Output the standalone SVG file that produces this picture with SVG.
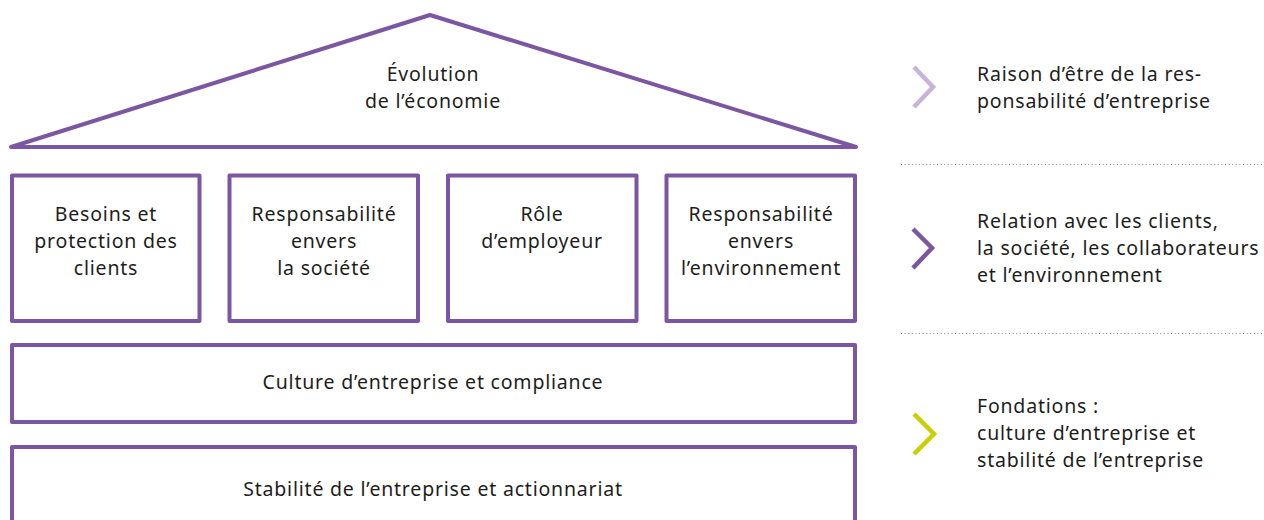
<svg xmlns="http://www.w3.org/2000/svg" width="1264" height="520" viewBox="0 0 1264 520">
<style>
.frame{fill:none;stroke:#7B56A2;stroke-width:4;stroke-linejoin:round}
.t{font-family:"Noto Sans","Open Sans",sans-serif;font-size:19.5px;letter-spacing:0.8px;fill:#1d1d1b;text-anchor:middle}
.r{font-family:"Noto Sans","Open Sans",sans-serif;font-size:19.5px;letter-spacing:0.8px;fill:#1d1d1b}
.chev{fill:none;stroke-width:4.5}
.dot{stroke:#8a8a8a;stroke-width:1.2;stroke-dasharray:1 2.6}
</style>
<rect width="1264" height="520" fill="#ffffff"/>
<g id="roof">
<polygon class="frame" points="430,15 856,147 11,147"/>
<text class="t" x="433" y="81">Évolution</text>
<text class="t" x="433" y="108">de l’économie</text>
</g>
<g id="box-clients">
<rect class="frame" x="12" y="175.5" width="187.5" height="145.5"/>
<text class="t" x="106" y="221">Besoins et</text>
<text class="t" x="106" y="248">protection des</text>
<text class="t" x="106" y="275">clients</text>
</g>
<g id="box-societe">
<rect class="frame" x="229.5" y="175.5" width="188.5" height="145.5"/>
<text class="t" x="324" y="221">Responsabilité</text>
<text class="t" x="324" y="248">envers</text>
<text class="t" x="324" y="275">la société</text>
</g>
<g id="box-employeur">
<rect class="frame" x="448" y="175.5" width="188.5" height="145.5"/>
<text class="t" x="542" y="221">Rôle</text>
<text class="t" x="542" y="248">d’employeur</text>
</g>
<g id="box-environnement">
<rect class="frame" x="666.5" y="175.5" width="188.5" height="145.5"/>
<text class="t" x="761" y="221">Responsabilité</text>
<text class="t" x="761" y="248">envers</text>
<text class="t" x="761" y="275">l’environnement</text>
</g>
<g id="box-culture">
<rect class="frame" x="12" y="345" width="843" height="77"/>
<text class="t" x="433" y="389">Culture d’entreprise et compliance</text>
</g>
<g id="box-stabilite">
<polyline class="frame" points="12,530 12,447 855,447 855,530"/>
<text class="t" x="433" y="496">Stabilité de l’entreprise et actionnariat</text>
</g>
<g id="legend-raison">
<polyline class="chev" stroke="#C6B4DB" points="914,67 933,87 914,107"/>
<text class="r" x="977" y="81">Raison d’être de la res-</text>
<text class="r" x="977" y="108">ponsabilité d’entreprise</text>
</g>
<g id="legend-relation">
<polyline class="chev" stroke="#7B56A2" points="913,229 932,248 913,268"/>
<text class="r" x="977" y="228">Relation avec les clients,</text>
<text class="r" x="977" y="255">la société, les collaborateurs</text>
<text class="r" x="977" y="282">et l’environnement</text>
</g>
<g id="legend-fondations">
<polyline class="chev" stroke="#C9D000" points="914,414 934,434 914,454"/>
<text class="r" x="977" y="413">Fondations :</text>
<text class="r" x="977" y="440">culture d’entreprise et</text>
<text class="r" x="977" y="467">stabilité de l’entreprise</text>
</g>
<g id="separators">
<line class="dot" x1="901" y1="164.5" x2="1262" y2="164.5"/>
<line class="dot" x1="901" y1="333.5" x2="1262" y2="333.5"/>
</g>
</svg>
